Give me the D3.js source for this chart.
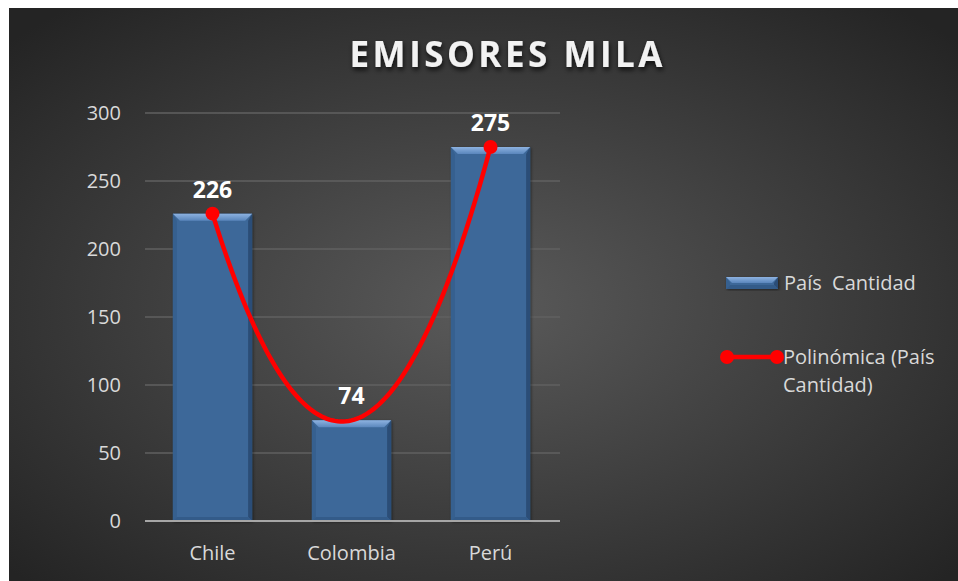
<!DOCTYPE html>
<html>
<head>
<meta charset="utf-8">
<script src="https://cdn.jsdelivr.net/npm/d3@7"></script>
<style>
  body { margin: 0; background: #fff; }
  text { font-family: "Open Sans", sans-serif; }
</style>
</head>
<body>
<div id="chart-area"></div>
<script>
// data
var paises = ["Chile", "Colombia", "Perú"];
var cantidad = [226, 74, 275];
var yTicks = [0, 50, 100, 150, 200, 250, 300];
var titulo = "EMISORES MILA";
var serieNombre = "País  Cantidad";
var tendenciaNombre = ["Polinómica (País", "Cantidad)"];

var W = 958, H = 581;

var svg = d3.select("#chart-area").append("svg")
    .attr("width", W)
    .attr("height", H);

var defs = svg.append("defs");

var bg = defs.append("radialGradient")
    .attr("id", "bg")
    .attr("cx", "50%").attr("cy", "52%").attr("r", "68%");
bg.append("stop").attr("offset", "0%").attr("stop-color", "#5a5a5a");
bg.append("stop").attr("offset", "100%").attr("stop-color", "#242424");

var topBevel = defs.append("linearGradient")
    .attr("id", "topBevel")
    .attr("x1", 0).attr("y1", 0).attr("x2", 0).attr("y2", 1);
topBevel.append("stop").attr("offset", "0%").attr("stop-color", "#8db2e0");
topBevel.append("stop").attr("offset", "100%").attr("stop-color", "#5a86bc");

var shadow = defs.append("filter").attr("id", "shadow")
    .attr("x", "-10%").attr("y", "-20%").attr("width", "120%").attr("height", "160%");
shadow.append("feDropShadow")
    .attr("dx", 1).attr("dy", 3).attr("stdDeviation", 2.5)
    .attr("flood-color", "#000").attr("flood-opacity", 0.75);

var barShadow = defs.append("filter").attr("id", "barShadow")
    .attr("x", "-20%").attr("y", "-10%").attr("width", "140%").attr("height", "120%");
barShadow.append("feDropShadow")
    .attr("dx", 1).attr("dy", 1).attr("stdDeviation", 1.5)
    .attr("flood-color", "#000").attr("flood-opacity", 0.5);

svg.append("rect")
    .attr("x", 9).attr("y", 8)
    .attr("width", W - 9).attr("height", H - 8)
    .attr("fill", "url(#bg)");

// title
svg.append("text")
    .attr("x", 506)
    .attr("y", 67)
    .attr("text-anchor", "middle")
    .attr("font-size", 35)
    .attr("font-weight", "bold")
    .attr("fill", "#f2f2f2")
    .attr("textLength", 313)
    .attr("lengthAdjust", "spacing")
    .attr("filter", "url(#shadow)")
    .text(titulo);

// scales
var x = d3.scaleBand()
    .domain(paises)
    .range([143, 560])
    .paddingInner(0.43)
    .paddingOuter(0.215);

var y = d3.scaleLinear()
    .domain([0, 300])
    .range([521, 113]);

// grid
svg.append("g")
    .selectAll("line")
    .data(yTicks.filter(function(d) { return d > 0; }))
    .enter()
    .append("line")
    .attr("x1", 145).attr("x2", 560)
    .attr("y1", function(d) { return y(d); })
    .attr("y2", function(d) { return y(d); })
    .attr("stroke", "#616161")
    .attr("stroke-width", 1.5);

// y tick labels
svg.append("g")
    .selectAll("text")
    .data(yTicks)
    .enter()
    .append("text")
    .attr("x", 121)
    .attr("y", function(d) { return y(d) + 7; })
    .attr("text-anchor", "end")
    .attr("font-size", 20)
    .attr("fill", "#d9d9d9")
    .text(function(d) { return d; });

// bevelled bar
function drawBar(g, bx, by, bw, bh) {
    var bt = Math.min(7, bh / 2), bs = 4, bb = Math.min(4, bh / 3);
    g.append("rect")
        .attr("x", bx).attr("y", by)
        .attr("width", bw).attr("height", bh)
        .attr("fill", "#3e6899")
        .attr("filter", "url(#barShadow)");
    g.append("polygon")
        .attr("points", [[bx, by], [bx + bs, by + bt], [bx + bs, by + bh - bb], [bx, by + bh]].join(" "))
        .attr("fill", "#36608f");
    g.append("polygon")
        .attr("points", [[bx + bw, by], [bx + bw - bs, by + bt], [bx + bw - bs, by + bh - bb], [bx + bw, by + bh]].join(" "))
        .attr("fill", "#2b4d77");
    g.append("polygon")
        .attr("points", [[bx, by + bh], [bx + bs, by + bh - bb], [bx + bw - bs, by + bh - bb], [bx + bw, by + bh]].join(" "))
        .attr("fill", "#335b89");
    g.append("polygon")
        .attr("points", [[bx, by], [bx + bw, by], [bx + bw - bt, by + bt], [bx + bt, by + bt]].join(" "))
        .attr("fill", "url(#topBevel)");
}

var bars = svg.append("g");
paises.forEach(function(p, i) {
    drawBar(bars.append("g"), x(p), y(cantidad[i]), x.bandwidth(), y(0) - y(cantidad[i]));
});

// x axis line
svg.append("line")
    .attr("x1", 145).attr("x2", 560)
    .attr("y1", y(0)).attr("y2", y(0))
    .attr("stroke", "#a6a6a6")
    .attr("stroke-width", 2);

// category labels
svg.append("g")
    .selectAll("text")
    .data(paises)
    .enter()
    .append("text")
    .attr("x", function(d) { return x(d) + x.bandwidth() / 2; })
    .attr("y", 560)
    .attr("text-anchor", "middle")
    .attr("font-size", 20)
    .attr("fill", "#d9d9d9")
    .text(function(d) { return d; });

// polynomial trendline (order 2, least squares on index 1..n)
var n = cantidad.length;
var xs = d3.range(1, n + 1);
function fitQuadratic(xv, yv) {
    var s = [0, 0, 0, 0, 0], t = [0, 0, 0];
    xv.forEach(function(xi, i) {
        for (var k = 0; k < 5; k++) s[k] += Math.pow(xi, k);
        for (var k2 = 0; k2 < 3; k2++) t[k2] += yv[i] * Math.pow(xi, k2);
    });
    var A = [[s[0], s[1], s[2], t[0]], [s[1], s[2], s[3], t[1]], [s[2], s[3], s[4], t[2]]];
    for (var c = 0; c < 3; c++) {
        for (var r = c + 1; r < 3; r++) {
            var f = A[r][c] / A[c][c];
            for (var k3 = c; k3 < 4; k3++) A[r][k3] -= f * A[c][k3];
        }
    }
    var coef = [0, 0, 0];
    for (var r2 = 2; r2 >= 0; r2--) {
        var v = A[r2][3];
        for (var k4 = r2 + 1; k4 < 3; k4++) v -= A[r2][k4] * coef[k4];
        coef[r2] = v / A[r2][r2];
    }
    return coef;
}
var coef = fitQuadratic(xs, cantidad);
var xIdx = d3.scaleLinear()
    .domain([1, n])
    .range([x(paises[0]) + x.bandwidth() / 2, x(paises[n - 1]) + x.bandwidth() / 2]);
var trend = d3.range(1, n + 0.001, 0.02).map(function(t) {
    return [t, coef[0] + coef[1] * t + coef[2] * t * t];
});

svg.append("path")
    .datum(trend)
    .attr("fill", "none")
    .attr("stroke", "#ff0000")
    .attr("stroke-width", 4.5)
    .attr("d", d3.line()
        .x(function(d) { return xIdx(d[0]); })
        .y(function(d) { return y(d[1]); }));

svg.append("g")
    .selectAll("circle")
    .data([trend[0], trend[trend.length - 1]])
    .enter()
    .append("circle")
    .attr("cx", function(d) { return xIdx(d[0]); })
    .attr("cy", function(d) { return y(d[1]); })
    .attr("r", 7)
    .attr("fill", "#ff0000");

// data labels
svg.append("g")
    .selectAll("text")
    .data(cantidad)
    .enter()
    .append("text")
    .attr("x", function(d, i) { return x(paises[i]) + x.bandwidth() / 2; })
    .attr("y", function(d) { return y(d) - 16; })
    .attr("text-anchor", "middle")
    .attr("font-size", 23)
    .attr("font-weight", "bold")
    .attr("fill", "#ffffff")
    .text(function(d) { return d; });

// legend
var legend = svg.append("g");
drawBar(legend.append("g"), 726, 277, 52, 12);
legend.append("text")
    .attr("x", 784).attr("y", 290)
    .attr("font-size", 20)
    .attr("fill", "#d9d9d9")
    .text(serieNombre)
    .style("white-space", "pre");

legend.append("line")
    .attr("x1", 727).attr("x2", 777)
    .attr("y1", 357).attr("y2", 357)
    .attr("stroke", "#ff0000")
    .attr("stroke-width", 4.5);
legend.selectAll("circle")
    .data([727, 777])
    .enter()
    .append("circle")
    .attr("cx", function(d) { return d; })
    .attr("cy", 357)
    .attr("r", 7)
    .attr("fill", "#ff0000");
legend.selectAll("text.trend")
    .data(tendenciaNombre)
    .enter()
    .append("text")
    .attr("class", "trend")
    .attr("x", 783)
    .attr("y", function(d, i) { return 364 + i * 28; })
    .attr("font-size", 20)
    .attr("fill", "#d9d9d9")
    .text(function(d) { return d; });
</script>
</body>
</html>
